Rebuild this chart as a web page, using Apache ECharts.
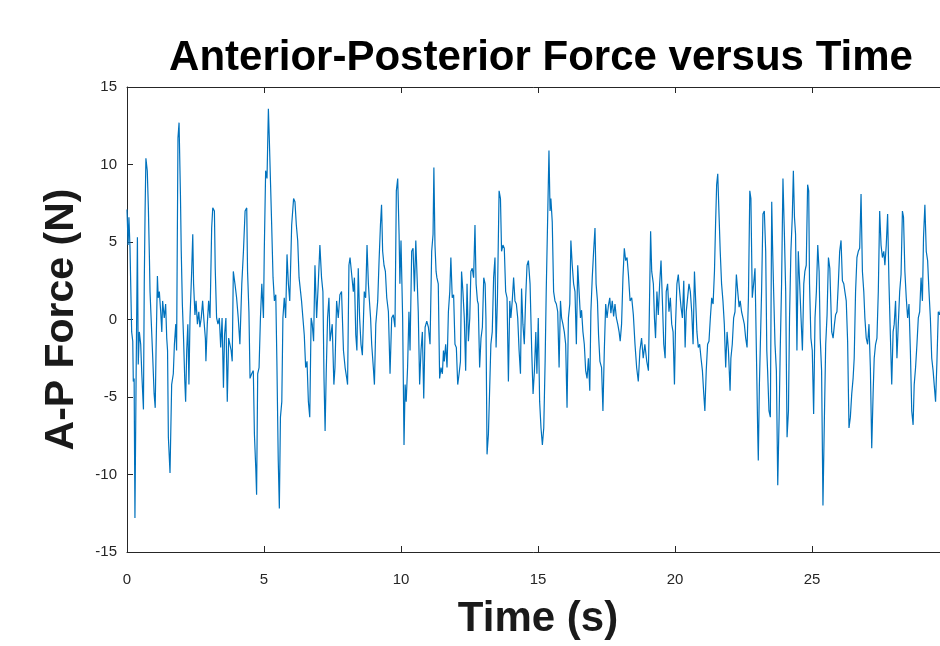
<!DOCTYPE html>
<html><head><meta charset="utf-8">
<script src="https://cdn.jsdelivr.net/npm/echarts@6/dist/echarts.min.js"></script>
<style>html,body{margin:0;padding:0;background:#fff}#c{width:940px;height:646px}</style>
</head><body><div id="c"></div>
<script>
// Time (s) of each sample
const timeS = [
0.00,0.04,0.07,0.11,0.17,0.21,0.23,0.26,0.29,0.33,0.38,0.41,0.45,0.50,0.54,0.60,0.63,0.66,0.69,0.74,0.78,0.82,0.84,0.88,0.94,0.99,1.03,1.06,1.11,1.14,1.18,1.23,1.27,1.30,1.36,1.41,1.45,1.48,1.51,1.57,1.63,1.69,1.73,1.78,1.81,1.86,1.90,1.95,1.98,2.02,2.06,2.11,2.14,2.18,2.22,2.26,2.30,2.36,2.40,2.43,2.48,2.52,2.57,2.62,2.66,2.71,2.76,2.81,2.86,2.88,2.93,2.98,3.03,3.09,3.13,3.19,3.22,3.27,3.32,3.37,3.42,3.47,3.52,3.56,3.61,3.66,3.71,
3.80,3.84,3.88,3.94,4.00,4.06,4.12,4.19,4.25,4.31,4.37,4.40,4.45,4.49,4.55,4.61,4.65,4.70,4.73,4.77,4.82,4.87,4.92,4.98,5.01,5.06,5.11,5.16,5.19,5.24,5.28,5.33,5.38,5.43,5.47,5.52,5.56,5.60,5.65,5.69,5.74,5.79,5.84,5.89,5.94,6.01,6.08,6.13,6.18,6.23,6.28,6.33,6.37,6.42,6.47,6.52,6.57,6.62,6.67,6.72,6.76,6.81,6.86,6.92,6.98,7.04,7.10,7.15,7.19,7.23,7.27,7.32,7.37,7.41,
7.49,7.55,7.59,7.65,7.71,7.77,7.83,7.90,7.96,8.02,8.05,8.10,8.14,8.20,8.26,8.30,8.35,8.39,8.44,8.49,8.54,8.59,8.66,8.71,8.76,8.81,8.84,8.89,8.93,8.99,9.03,9.08,9.15,9.20,9.25,9.29,9.33,9.38,9.43,9.48,9.54,9.60,9.66,9.72,9.78,9.83,9.88,9.93,9.96,10.00,10.06,10.11,10.15,10.19,10.24,10.29,10.33,10.39,10.44,10.49,10.54,10.58,10.63,10.68,10.73,10.78,10.83,10.88,10.94,11.00,11.06,
11.12,11.17,11.20,11.24,11.28,11.31,11.36,11.41,11.46,11.51,11.55,11.58,11.63,11.68,11.73,11.78,11.82,11.87,11.92,11.97,12.02,12.07,12.12,12.17,12.21,12.26,12.31,12.36,12.41,12.46,12.51,12.55,12.60,12.65,12.70,12.74,12.79,12.82,12.87,12.92,12.97,13.02,13.07,13.10,13.14,13.19,13.24,13.28,13.33,13.38,13.43,13.47,13.52,13.58,13.63,13.67,13.72,13.77,13.82,13.87,13.92,13.97,14.01,14.06,14.11,14.16,14.21,14.26,14.31,14.36,14.40,14.45,14.50,14.55,14.60,14.65,14.71,
14.77,14.82,14.87,14.92,14.96,15.01,15.06,15.11,15.16,15.21,15.26,15.30,15.35,15.40,15.44,15.47,15.52,15.57,15.62,15.67,15.72,15.77,15.82,15.86,15.91,15.96,16.01,16.06,16.11,16.16,16.20,16.25,16.30,16.35,16.40,16.45,16.50,16.55,16.59,16.64,16.69,16.74,16.79,16.84,16.89,16.93,16.98,17.03,17.08,17.12,17.17,17.21,17.26,17.32,17.37,17.42,17.47,17.52,17.57,17.62,17.66,17.71,17.76,17.81,17.86,17.91,17.96,18.00,18.05,18.10,18.15,18.20,18.25,18.30,18.36,
18.42,18.48,18.54,18.60,18.66,18.72,18.78,18.84,18.90,18.97,19.03,19.08,19.11,19.15,19.21,19.25,19.29,19.34,19.39,19.44,19.49,19.54,19.59,19.64,19.68,19.73,19.78,19.83,19.88,19.93,19.98,20.02,20.07,20.12,20.17,20.22,20.27,20.32,20.37,20.41,20.46,20.51,20.56,20.61,20.66,20.71,20.75,20.80,20.85,20.90,20.95,21.00,21.05,21.09,21.14,21.19,21.24,21.29,21.34,21.39,21.44,21.48,21.52,21.56,21.61,21.65,21.70,21.75,21.80,21.85,21.90,21.95,22.01,
22.04,22.09,22.14,22.19,22.24,22.29,22.34,22.38,22.43,22.48,22.53,22.58,22.63,22.68,22.73,22.77,22.82,22.87,22.92,22.97,23.02,23.04,23.08,23.11,23.16,23.21,23.26,23.31,23.35,23.38,23.43,23.48,23.53,23.56,23.60,23.65,23.70,23.75,23.80,23.84,23.89,23.94,23.99,24.04,24.09,24.14,24.18,24.23,24.28,24.32,24.36,24.40,24.45,24.50,24.55,24.60,24.65,24.70,24.74,24.79,24.84,24.88,24.91,24.96,25.01,25.06,25.11,25.16,25.21,25.26,25.30,25.35,25.40,25.45,25.50,25.55,25.60,25.65,
25.72,25.77,25.82,25.86,25.91,25.96,26.01,26.06,26.11,26.16,26.20,26.25,26.30,26.35,26.40,26.45,26.50,26.54,26.59,26.64,26.69,26.74,26.79,26.84,26.89,26.93,26.98,27.03,27.08,27.13,27.18,27.23,27.27,27.32,27.37,27.42,27.47,27.52,27.57,27.62,27.66,27.71,27.76,27.81,27.86,27.91,27.96,28.00,28.05,28.10,28.15,28.20,28.25,28.30,28.34,28.39,28.44,28.49,28.54,28.59,28.64,28.69,28.73,28.78,28.83,28.88,28.93,28.98,29.03,29.07,29.12,29.17,29.22,29.27,29.32,29.37,29.42,29.46,29.51,29.56,29.61,29.66,29.75,29.85,30.00
];
// A-P force (N) at each sample
const forceN = [
7.1,4.8,6.6,4.6,-0.8,-1.4,-4.0,-3.8,-12.8,-4.2,5.3,-2.9,-0.8,-1.6,-3.5,-5.8,2.3,7.0,10.4,9.6,7.2,3.8,1.8,0.1,-2.5,-4.8,-5.7,-2.0,2.8,1.4,1.8,0.5,-0.8,1.2,0.1,1.0,-1.2,-2.0,-7.6,-9.9,-4.2,-3.5,-1.6,-0.3,-2.0,11.7,12.7,8.1,4.4,1.0,-1.0,-4.0,-5.3,-2.0,-0.3,-4.2,0.1,3.1,5.5,2.3,0.3,1.2,-0.3,0.5,-0.5,0.1,1.2,-0.1,-1.2,-2.7,-0.3,1.2,0.1,5.9,7.2,7.0,3.3,0.1,-0.3,0.1,-1.8,0.1,-4.4,-1.0,0.1,-5.3,-1.2,
-2.0,-2.7,3.1,2.3,1.4,0.1,-1.6,2.3,4.4,7.0,7.2,3.1,0.5,-3.8,-3.5,-3.3,-7.4,-9.6,-11.3,-3.5,-3.1,0.1,2.3,0.1,4.4,9.6,9.1,13.6,11.9,8.7,6.1,2.7,1.2,1.6,-2.7,-9.1,-12.2,-6.3,-5.3,0.1,1.4,0.1,4.2,2.3,1.2,6.1,7.8,7.6,6.1,5.1,2.7,2.7,1.2,0.1,-1.0,-3.1,-2.7,-5.3,-6.3,0.1,-0.3,-1.4,3.5,0.1,2.3,4.8,2.7,1.8,-3.8,-7.2,-3.5,0.1,1.4,-1.4,
-0.3,-4.2,-3.1,1.2,0.1,1.6,1.8,-2.0,-3.1,-3.8,-4.2,3.5,4.0,2.9,1.8,2.7,-1.0,-2.0,3.3,0.1,-1.6,-2.3,1.8,1.4,4.8,2.3,1.4,0.1,-1.6,-3.1,-4.2,-0.3,1.2,3.8,6.1,7.4,4.4,3.5,3.1,1.4,0.5,-3.5,0.1,0.3,-0.5,8.3,9.1,5.5,2.3,5.1,0.1,-8.1,-4.2,-5.3,-3.1,0.5,-2.0,4.4,4.6,1.8,5.1,3.1,0.5,-4.2,-2.0,-0.8,-5.1,-0.5,-0.1,-0.5,-1.6,
4.4,5.5,9.8,4.8,3.1,2.7,2.3,-3.8,-3.1,-3.5,-2.0,-2.7,-1.6,-3.1,0.5,1.8,4.0,1.4,1.6,-1.6,-1.8,-4.2,-3.5,-2.7,3.1,1.8,0.1,-3.3,2.3,-1.4,0.1,3.1,3.3,2.7,6.1,2.3,1.2,1.0,-3.1,-1.2,-0.5,2.7,2.3,0.1,-8.7,-7.4,-4.2,-1.6,-0.8,2.7,4.0,-1.8,1.4,8.3,7.8,4.4,4.8,4.6,1.8,1.4,-4.0,1.2,0.1,1.2,2.7,1.2,1.0,0.1,-2.0,-3.5,2.0,-0.3,-1.6,1.4,3.5,3.8,2.3,
-2.0,-4.8,-3.3,-0.8,-3.5,0.1,-5.3,-7.0,-8.1,-7.0,-2.7,1.8,6.3,10.9,7.0,7.8,6.3,1.8,1.2,1.0,0.5,-3.1,1.2,0.1,-0.3,-0.8,-1.6,-5.7,0.1,1.0,5.1,3.5,2.3,1.8,-1.6,3.5,1.8,0.1,0.6,-0.8,-1.6,-3.3,-3.8,-2.5,-4.6,0.5,2.7,4.4,5.9,2.3,1.2,-1.0,-2.7,-3.1,-5.9,-2.0,1.0,0.1,0.9,1.4,0.4,1.2,0.2,1.0,0.1,-0.3,-0.8,-1.4,-0.3,2.7,4.6,3.8,4.0,2.9,1.2,
1.4,0.3,-1.6,-3.1,-4.0,-2.0,-1.2,-2.5,-1.6,-2.7,-3.3,2.3,5.7,3.1,2.3,0.1,-1.2,1.8,0.3,2.3,3.8,1.2,-1.6,-2.5,1.8,2.3,0.5,1.4,-0.3,-0.8,-4.2,-0.3,2.3,2.9,1.8,0.8,0.1,2.5,-1.8,0.5,1.4,2.3,1.8,0.5,-1.6,3.1,1.4,-0.8,-1.8,-1.6,-2.5,-3.3,-4.8,-5.9,-3.3,-1.6,-1.4,0.1,1.4,1.0,3.1,6.1,8.7,9.4,6.6,4.4,2.3,1.2,-0.3,-3.1,-0.8,-2.0,-4.6,
-2.5,-1.6,0.1,0.5,2.9,1.8,0.8,1.2,0.5,0.1,-0.3,-1.2,-1.8,1.4,8.3,7.8,1.4,2.3,3.3,-2.0,-7.4,-9.1,-4.2,-2.0,1.8,6.8,7.0,4.4,-2.0,-3.3,-5.9,-6.3,7.6,4.8,1.8,-1.6,-3.3,-10.7,-6.3,-2.0,2.3,9.1,5.7,1.8,-7.6,-5.9,0.1,4.4,6.6,9.6,6.6,5.5,-2.0,4.4,2.3,0.1,-2.0,2.3,3.1,3.5,8.7,8.3,2.3,-1.2,-2.0,-6.1,0.1,1.8,4.8,3.1,-1.2,-3.3,-12.0,-6.6,-1.6,0.3,4.0,3.3,
-0.8,-1.2,-0.3,0.3,0.5,2.3,4.4,5.1,2.5,2.3,1.8,1.2,-1.4,-7.0,-6.3,-4.8,-3.8,-2.5,1.8,4.0,4.4,4.6,8.1,3.1,1.8,0.1,-1.2,-1.6,-0.3,-3.1,-8.3,-4.8,-2.5,-1.6,-1.2,1.8,7.0,4.8,4.0,4.4,3.5,4.8,6.8,2.3,-1.0,-4.2,-0.8,-0.3,1.2,-2.5,-0.3,1.8,2.9,7.0,6.6,3.1,1.4,0.1,1.0,-2.0,-5.9,-6.8,-4.2,-3.1,-1.6,0.1,0.5,2.7,1.2,5.3,7.4,4.4,3.8,1.8,0.1,-2.5,-3.3,-4.2,-5.3,-2.7,0.5,0.3,1.2,-1.0,0.4
];
const xRange = [0, 30];
const yRange = [-15, 15];
const tickStep = 5;
const titleText = 'Anterior-Posterior Force versus Time';
const xName = 'Time (s)';
const yName = 'A-P Force (N)';

const FONT = '"Liberation Sans", Arial, Helvetica, sans-serif';
const AX = '#262626';
const chart = echarts.init(document.getElementById('c'), null, {renderer: 'canvas'});
const data = timeS.map((t, i) => [t, forceN[i]]);
const baseAxis = {
  type: 'value', interval: tickStep,
  axisLine: {show: true, onZero: false, lineStyle: {color: AX, width: 1}},
  axisTick: {show: true, inside: true, length: 6, lineStyle: {color: AX, width: 1}},
  splitLine: {show: false}
};
chart.setOption({
  animation: false,
  backgroundColor: '#fff',
  title: {
    text: titleText, left: 536, top: 32, textAlign: 'center',
    textStyle: {fontFamily: FONT, fontWeight: 'bold', fontSize: 42, color: '#000'}
  },
  grid: {left: 127, top: 87, width: 822, height: 465, containLabel: false, outerBoundsMode: 'none'},
  xAxis: [
    Object.assign({}, baseAxis, {
      min: xRange[0], max: xRange[1], position: 'bottom',
      axisLabel: {margin: 20, fontSize: 15, color: AX, fontFamily: FONT},
      name: xName, nameLocation: 'middle', nameGap: 46,
      nameTextStyle: {fontFamily: FONT, fontWeight: 'bold', fontSize: 42, color: '#1a1a1a'}
    }),
    Object.assign({}, baseAxis, {
      min: xRange[0], max: xRange[1], position: 'top', axisLabel: {show: false}
    })
  ],
  yAxis: [
    Object.assign({}, baseAxis, {
      min: yRange[0], max: yRange[1], position: 'left',
      axisLabel: {margin: 10, fontSize: 15, color: AX, fontFamily: FONT},
      name: yName, nameLocation: 'middle', nameGap: 45,
      nameTextStyle: {fontFamily: FONT, fontWeight: 'bold', fontSize: 41, color: '#1a1a1a'}
    }),
    Object.assign({}, baseAxis, {
      min: yRange[0], max: yRange[1], position: 'right', axisLabel: {show: false}
    })
  ],
  series: [{
    type: 'line', data: data, xAxisIndex: 0, yAxisIndex: 0,
    symbol: 'none', showSymbol: false,
    lineStyle: {color: '#0072BD', width: 1.2}
  }]
});
</script>
</body></html>
